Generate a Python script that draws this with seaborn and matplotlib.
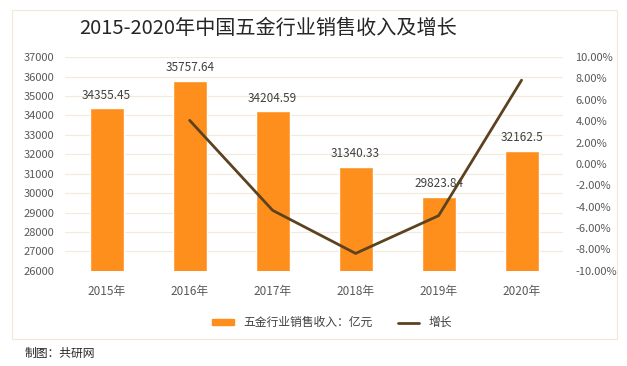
import numpy as np
import pandas as pd
import seaborn as sns
import matplotlib.pyplot as plt
from matplotlib.patches import Rectangle
from matplotlib.lines import Line2D
from matplotlib.ticker import FuncFormatter

years = ['2015年', '2016年', '2017年', '2018年', '2019年', '2020年']
sales = [34355.45, 35757.64, 34204.59, 31340.33, 29823.84, 32162.5]
sales_labels = ['34355.45', '35757.64', '34204.59', '31340.33', '29823.84', '32162.5']
growth_years = ['2016年', '2017年', '2018年', '2019年', '2020年']
growth = [4.08, -4.34, -8.37, -4.84, 7.84]

bar_color = '#FF8F1C'
line_color = '#5C4220'
grid_color = '#F3EBD9'
tick_color = '#595959'

sns.set_style('white')
plt.rcParams['font.family'] = ['Noto Sans CJK SC', 'DejaVu Sans']

fig = plt.figure(figsize=(6.27, 3.66), dpi=100)
ax = fig.add_axes([0.104, 0.26, 0.794, 0.584])

df = pd.DataFrame({'year': years, 'sales': sales})
sns.barplot(data=df, x='year', y='sales', color=bar_color, width=0.41,
            saturation=1, ax=ax, zorder=2)
ax.set_ylim(26000, 37000)
ax.set_yticks(np.arange(26000, 37001, 1000))
ax.set_xlim(-0.5, 5.5)
ax.grid(axis='y', color=grid_color, linewidth=0.8, zorder=0)
ax.set_axisbelow(True)
for s in ax.spines.values():
    s.set_visible(False)
ax.set_xlabel('')
ax.set_ylabel('')
ax.tick_params(axis='both', length=0, labelsize=8, labelcolor=tick_color)
ax.tick_params(axis='x', pad=10, labelsize=8.5)
ax.tick_params(axis='y', pad=8)

# value labels above the bars
for i, (v, lab) in enumerate(zip(sales, sales_labels)):
    ax.text(i, v + 350, lab, ha='center', va='bottom', fontsize=8.5,
            color='#404040')

ax2 = ax.twinx()
gx = [years.index(y) for y in growth_years]
sns.lineplot(x=gx, y=growth, color=line_color, linewidth=2, ax=ax2)
ax2.set_ylim(-10, 10)
ax2.set_yticks(np.arange(-10, 10.1, 2))
ax2.yaxis.set_major_formatter(FuncFormatter(lambda v, p: f'{v:.2f}%'))
for s in ax2.spines.values():
    s.set_visible(False)
ax2.tick_params(axis='y', length=0, labelsize=8, labelcolor=tick_color, pad=9)
ax2.set_ylabel('')

fig.text(0.428, 0.923, '2015-2020年中国五金行业销售收入及增长', ha='center',
         va='center', fontsize=14.5, color='#262626')

handles = [Rectangle((0, 0), 1, 1, color=bar_color),
           Line2D([0], [0], color=line_color, linewidth=2)]
fig.legend(handles, ['五金行业销售收入：亿元', '增长'], loc='center',
           bbox_to_anchor=(0.53, 0.118), ncol=2, frameon=False, fontsize=8.5,
           handlelength=1.8, handleheight=0.5, columnspacing=2.2,
           labelcolor='#404040')

fig.patches.append(Rectangle((12 / 627, 1 - 339 / 366), 605 / 627, 329 / 366,
                             transform=fig.transFigure, fill=False,
                             edgecolor='#F1E9D6', linewidth=0.8))
fig.text(25 / 627, 1 - 353 / 366, '制图：共研网', ha='left', va='center',
         fontsize=8.5, color='#262626')

fig.savefig('out.png', dpi=100)
